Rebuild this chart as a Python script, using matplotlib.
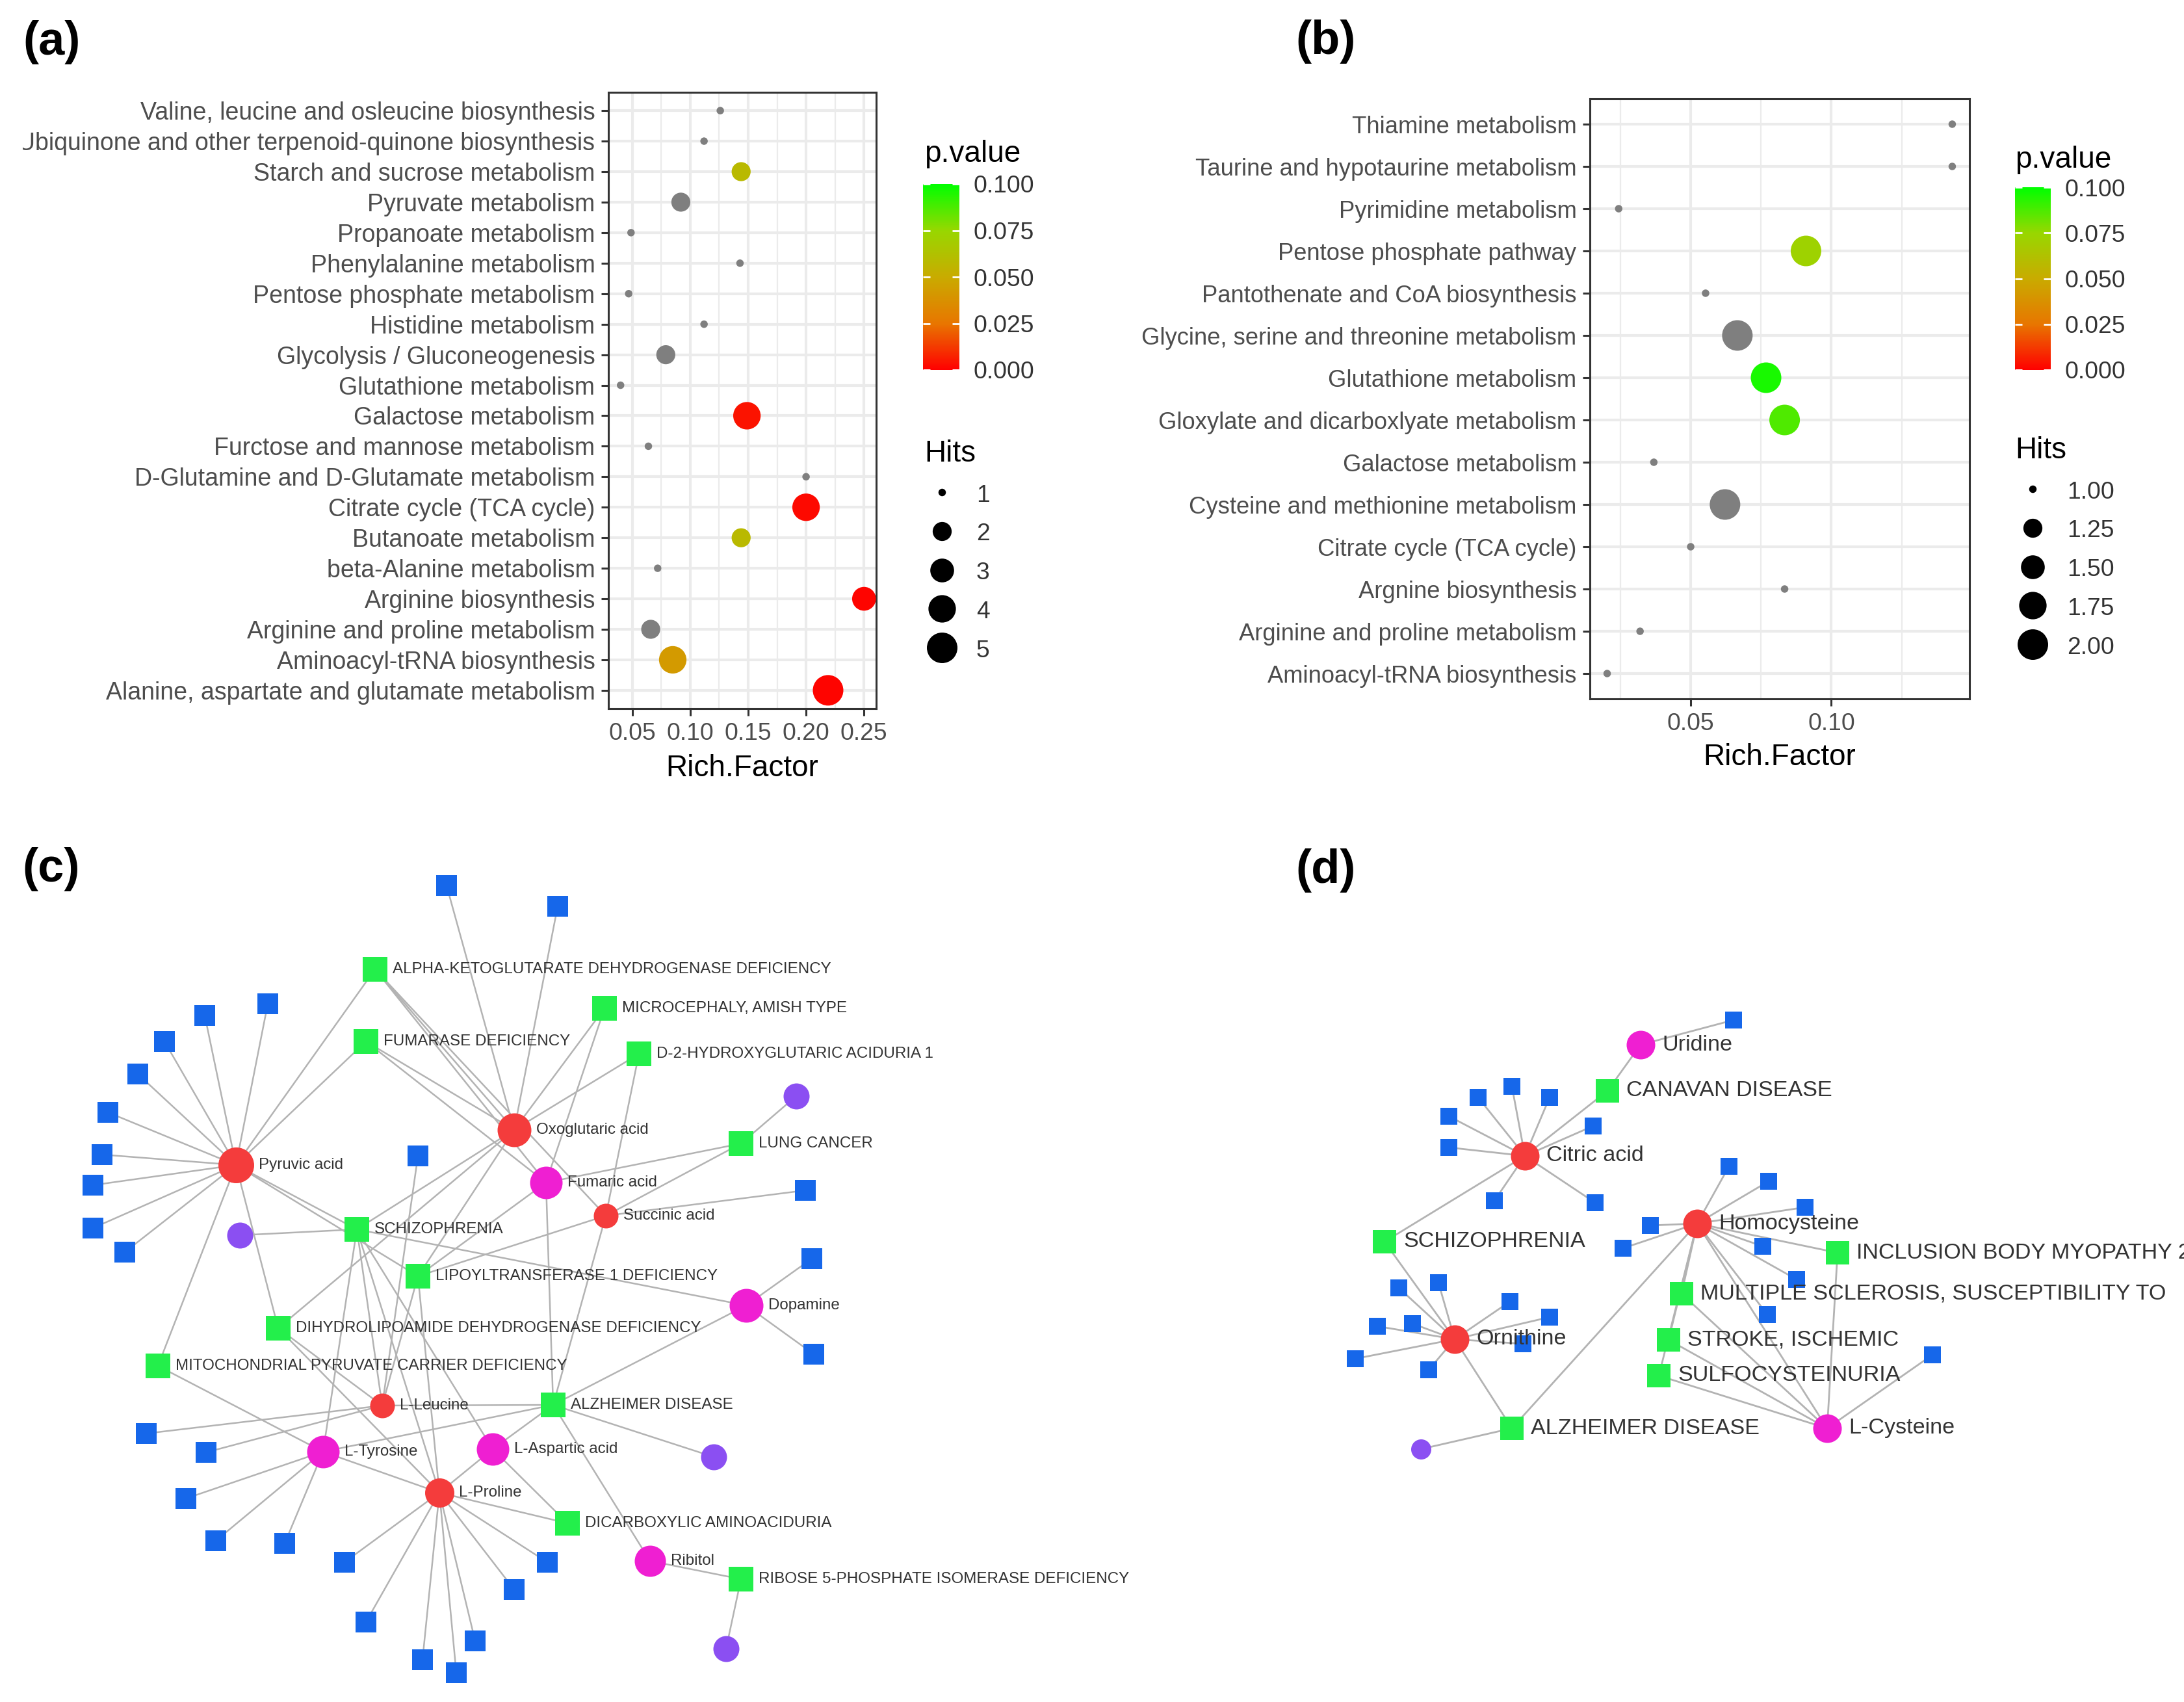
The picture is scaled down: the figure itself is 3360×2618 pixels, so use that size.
import numpy as np
import matplotlib
matplotlib.use("Agg")
import matplotlib.pyplot as plt
from matplotlib.colors import LinearSegmentedColormap, Normalize
from matplotlib.cm import ScalarMappable
from matplotlib.collections import LineCollection
from matplotlib.lines import Line2D
from matplotlib.ticker import FormatStrFormatter
from matplotlib.transforms import Bbox, TransformedBbox

W, H, DPI = 3360, 2618, 200
PT = 72.0 / DPI  # points per pixel

plt.rcParams['font.family'] = ['Liberation Sans', 'DejaVu Sans']
nan = np.nan

# ---------------- (a) enrichment ----------------
a_pathways = ["Valine, leucine and osleucine biosynthesis",
              "Ubiquinone and other terpenoid-quinone biosynthesis",
              "Starch and sucrose metabolism", "Pyruvate metabolism",
              "Propanoate metabolism", "Phenylalanine metabolism",
              "Pentose phosphate metabolism", "Histidine metabolism",
              "Glycolysis / Gluconeogenesis", "Glutathione metabolism",
              "Galactose metabolism", "Furctose and mannose metabolism",
              "D-Glutamine and D-Glutamate metabolism", "Citrate cycle (TCA cycle)",
              "Butanoate metabolism", "beta-Alanine metabolism",
              "Arginine biosynthesis", "Arginine and proline metabolism",
              "Aminoacyl-tRNA biosynthesis",
              "Alanine, aspartate and glutamate metabolism"]
a_rich = [0.126, 0.112, 0.144, 0.092, 0.049, 0.143, 0.047, 0.112, 0.079, 0.040,
          0.149, 0.064, 0.200, 0.200, 0.144, 0.072, 0.250, 0.066, 0.085, 0.219]
a_hits = [1, 1, 2, 2, 1, 1, 1, 1, 2, 1, 4, 1, 1, 4, 2, 1, 3, 2, 4, 5]
a_pval = [nan, nan, 0.058, nan, nan, nan, nan, nan, nan, nan,
          0.004, nan, nan, 0.002, 0.058, nan, 0.001, nan, 0.042, 0.001]
a_hits_legend = [1, 2, 3, 4, 5]

# ---------------- (b) enrichment ----------------
b_pathways = ["Thiamine metabolism", "Taurine and hypotaurine metabolism",
              "Pyrimidine metabolism", "Pentose phosphate pathway",
              "Pantothenate and CoA biosynthesis",
              "Glycine, serine and threonine metabolism", "Glutathione metabolism",
              "Gloxylate and dicarboxlyate metabolism", "Galactose metabolism",
              "Cysteine and methionine metabolism", "Citrate cycle (TCA cycle)",
              "Argnine biosynthesis", "Arginine and proline metabolism",
              "Aminoacyl-tRNA biosynthesis"]
b_rich = [0.143, 0.143, 0.0244, 0.091, 0.0553, 0.0666, 0.0768, 0.0834, 0.0369,
          0.0622, 0.050, 0.0834, 0.032, 0.0203]
b_hits = [1, 1, 1, 2, 1, 2, 2, 2, 1, 2, 1, 1, 1, 1]
b_pval = [nan, nan, nan, 0.072, nan, nan, 0.096, 0.087, nan, nan, nan, nan, nan, nan]
b_hits_legend = [1.0, 1.25, 1.5, 1.75, 2.0]

p_ticks = [0.0, 0.025, 0.05, 0.075, 0.1]

# ---------------- (c) network (layout in image pixels) ----------------
c_ids = ['pyr', 'oxo', 'suc', 'leu', 'pro', 'fum', 'dop', 'tyr', 'asp', 'rib',
         'akg', 'mic', 'fmd', 'd2h', 'lung', 'scz', 'lip', 'dld', 'mpc', 'alz', 'dca', 'rpi',
         'p1', 'p2', 'p3', 'p4'] + ['b%d' % i for i in range(1, 28)]
c_labels = ['Pyruvic acid', 'Oxoglutaric acid', 'Succinic acid', 'L-Leucine', 'L-Proline',
            'Fumaric acid', 'Dopamine', 'L-Tyrosine', 'L-Aspartic acid', 'Ribitol',
            'ALPHA-KETOGLUTARATE DEHYDROGENASE DEFICIENCY', 'MICROCEPHALY, AMISH TYPE',
            'FUMARASE DEFICIENCY', 'D-2-HYDROXYGLUTARIC ACIDURIA 1', 'LUNG CANCER',
            'SCHIZOPHRENIA', 'LIPOYLTRANSFERASE 1 DEFICIENCY',
            'DIHYDROLIPOAMIDE DEHYDROGENASE DEFICIENCY',
            'MITOCHONDRIAL PYRUVATE CARRIER DEFICIENCY', 'ALZHEIMER DISEASE',
            'DICARBOXYLIC AMINOACIDURIA', 'RIBOSE 5-PHOSPHATE ISOMERASE DEFICIENCY'] + [''] * 31
c_kind = (['red'] * 5 + ['magenta'] * 5 + ['green'] * 12 + ['purple'] * 4 + ['blue'] * 27)
c_x = [363, 791, 932, 588, 676, 840, 1148, 497, 758, 1000,
       577, 930, 563, 983, 1140, 549, 643, 428, 243, 851, 873, 1140,
       1225, 369, 1098, 1117,
       687, 858, 412, 315, 253, 212, 166, 157, 143, 143, 192, 643, 1239, 1249, 1252,
       225, 317, 286, 332, 438, 530, 563, 650, 702, 731, 791, 842]
c_y = [1792, 1738, 1870, 2162, 2296, 1819, 2008, 2233, 2229, 2401,
       1491, 1551, 1602, 1621, 1759, 1891, 1963, 2043, 2101, 2161, 2343, 2429,
       1686, 1900, 2241, 2536,
       1362, 1394, 1544, 1562, 1602, 1652, 1711, 1776, 1823, 1889, 1926, 1778, 1831, 1936, 2083,
       2205, 2234, 2305, 2370, 2374, 2403, 2495, 2553, 2573, 2524, 2445, 2403]
c_node_d = [55, 52, 38, 38, 45, 50, 52, 50, 50, 48] + [38] * 12 + [40] * 4 + [32] * 27
c_edges = ([('pyr', 'b%d' % i) for i in range(3, 12)] +
           [('pyr', 'akg'), ('pyr', 'fmd'), ('pyr', 'scz'), ('pyr', 'lip'), ('pyr', 'dld'), ('pyr', 'mpc'),
            ('oxo', 'b1'), ('oxo', 'b2'), ('oxo', 'akg'), ('oxo', 'fmd'), ('oxo', 'mic'), ('oxo', 'd2h'),
            ('oxo', 'scz'), ('oxo', 'lip'), ('oxo', 'dld'),
            ('fum', 'akg'), ('fum', 'fmd'), ('fum', 'mic'), ('fum', 'lung'), ('fum', 'alz'), ('fum', 'lip'),
            ('suc', 'akg'), ('suc', 'd2h'), ('suc', 'lung'), ('suc', 'b13'), ('suc', 'lip'), ('suc', 'alz'),
            ('lung', 'p1'),
            ('dop', 'b14'), ('dop', 'b15'), ('dop', 'scz'), ('dop', 'alz'),
            ('scz', 'p2'), ('scz', 'leu'), ('scz', 'tyr'), ('scz', 'pro'), ('scz', 'asp'),
            ('leu', 'b12'), ('leu', 'b16'), ('leu', 'b17'), ('leu', 'alz'), ('leu', 'lip'), ('leu', 'dld'),
            ('tyr', 'b18'), ('tyr', 'b19'), ('tyr', 'b20'), ('tyr', 'alz'), ('tyr', 'mpc'), ('tyr', 'pro')] +
           [('pro', 'b%d' % i) for i in range(21, 28)] +
           [('pro', 'dca'), ('pro', 'asp'), ('pro', 'lip'), ('pro', 'dld'),
            ('asp', 'alz'), ('asp', 'dca'), ('alz', 'p3'), ('alz', 'rib'), ('rib', 'rpi'), ('rpi', 'p4')])

# ---------------- (d) network ----------------
d_ids = ['cit', 'hcy', 'orn', 'uri', 'cys', 'can', 'scz', 'ibm', 'ms', 'stk', 'sul', 'alz', 'p1'] + \
        ['b%d' % i for i in range(1, 28)]
d_labels = ['Citric acid', 'Homocysteine', 'Ornithine', 'Uridine', 'L-Cysteine',
            'CANAVAN DISEASE', 'SCHIZOPHRENIA', 'INCLUSION BODY MYOPATHY 2',
            'MULTIPLE SCLEROSIS, SUSCEPTIBILITY TO', 'STROKE, ISCHEMIC', 'SULFOCYSTEINURIA',
            'ALZHEIMER DISEASE'] + [''] * 28
d_kind = ['red'] * 3 + ['magenta'] * 2 + ['green'] * 7 + ['purple'] + ['blue'] * 27
d_x = [2346, 2611, 2238, 2524, 2811, 2473, 2130, 2827, 2587, 2567, 2552, 2326, 2186,
       2667,
       2326, 2274, 2384, 2229, 2451, 2229, 2299, 2454,
       2660, 2721, 2777, 2539, 2497, 2712, 2764, 2719,
       2973,
       2152, 2213, 2323, 2384, 2119, 2173, 2343, 2085, 2198]
d_y = [1778, 1882, 2060, 1607, 2197, 1678, 1910, 1927, 1990, 2061, 2116, 2197, 2229,
       1569,
       1671, 1688, 1688, 1717, 1732, 1765, 1847, 1850,
       1794, 1817, 1857, 1885, 1920, 1917, 1968, 2022,
       2084,
       1981, 1973, 2002, 2026, 2040, 2036, 2067, 2090, 2107]
d_node_d = [44] * 5 + [36] * 7 + [31] + [26] * 27
d_edges = ([('uri', 'b1'), ('uri', 'can'), ('can', 'cit'), ('cit', 'scz'), ('scz', 'orn'),
            ('orn', 'alz'), ('alz', 'p1'), ('alz', 'hcy')] +
           [('cit', 'b%d' % i) for i in range(2, 10)] +
           [('hcy', 'b%d' % i) for i in range(10, 18)] +
           [('hcy', 'ibm'), ('hcy', 'ms'), ('hcy', 'stk'), ('hcy', 'sul'), ('hcy', 'cys'),
            ('cys', 'ibm'), ('cys', 'ms'), ('cys', 'stk'), ('cys', 'sul'), ('cys', 'b18')] +
           [('orn', 'b%d' % i) for i in range(19, 28)])

# ---------------- styles ----------------
cmap = LinearSegmentedColormap.from_list(
    'pv', ['#FF0000', '#E87600', '#C9AB00', '#98D700', '#00FF00'])
norm = Normalize(0, 0.1)
GREY = '#7f7f7f'
NODE_STYLE = {'red': ('#f43c3c', 'o'), 'magenta': ('#ef1fd2', 'o'),
              'purple': ('#8b4ff2', 'o'), 'green': ('#23ef4b', 's'),
              'blue': ('#1667ea', 's')}

fig = plt.figure(figsize=(W / DPI, H / DPI), dpi=DPI)


def rect(x0, y0, x1, y1):
    return [x0 / W, 1 - y1 / H, (x1 - x0) / W, (y1 - y0) / H]


def dot_px(h, hmin, hmax):
    return 11.5 + 35.5 * np.sqrt((np.asarray(h, float) - hmin) / (hmax - hmin))


def dot_panel(box, labels, rich, pval, hits, major, minor, xlab_y, ysize):
    ax = fig.add_axes(rect(*box))
    n = len(labels)
    ypos = np.arange(n)
    cols = [GREY if np.isnan(p) else cmap(norm(p)) for p in pval]
    ax.scatter(rich, ypos, s=(dot_px(hits, min(hits), max(hits)) * PT) ** 2,
               c=cols, linewidths=0, zorder=3)
    lo, hi = min(rich), max(rich)
    ax.set_xlim(lo - 0.05 * (hi - lo), hi + 0.05 * (hi - lo))
    ax.set_ylim(n - 0.4, -0.6)
    ax.set_yticks(ypos)
    ax.set_yticklabels(labels)
    ax.set_xticks(major)
    ax.set_xticks(minor, minor=True)
    ax.xaxis.set_major_formatter(FormatStrFormatter('%.2f'))
    ax.grid(which='major', color='#ebebeb', lw=1.5)
    ax.grid(which='minor', axis='x', color='#ebebeb', lw=0.8)
    ax.set_axisbelow(True)
    for sp in ax.spines.values():
        sp.set_color('#333333')
        sp.set_linewidth(1.1)
    ax.tick_params(which='major', length=4.1, width=1.1, color='#333333',
                   labelsize=13.4, labelcolor='#4d4d4d', pad=3.3)
    ax.tick_params(axis='y', labelsize=ysize)
    ax.tick_params(which='minor', length=0)
    ax.set_xlabel('Rich.Factor', fontsize=16.5)
    ax.xaxis.set_label_coords(0.5, -(xlab_y - box[3]) / (box[3] - box[1]))
    ax.xaxis.label.set_va('center')
    return ax


def p_legend(x_title, y_title, bar):
    fig.text(x_title / W, 1 - y_title / H, 'p.value', fontsize=16.5, va='center', ha='left')
    cax = fig.add_axes(rect(*bar))
    cb = fig.colorbar(ScalarMappable(norm=norm, cmap=cmap), cax=cax, ticks=p_ticks)
    cb.outline.set_visible(False)
    cb.ax.set_yticklabels(['%.3f' % t for t in p_ticks])
    cax.tick_params(axis='y', left=True, right=True, direction='in', length=4,
                    width=1.0, color='white', labelsize=13.4, labelcolor='#333333', pad=7.9)
    cb.minorticks_off()


def hits_legend(x, y_top, values, fmt):
    ds = dot_px(values, min(values), max(values))
    handles = [Line2D([], [], ls='none', marker='o', color='black', markeredgewidth=0,
                      markersize=d * PT) for d in ds]
    leg = fig.legend(handles, [fmt % v for v in values], title='Hits', loc='upper left',
                     bbox_to_anchor=(x / W, 1 - y_top / H), frameon=False, fontsize=13.4,
                     title_fontsize=16.5, alignment='left', borderpad=0, borderaxespad=0,
                     handlelength=1.45, handleheight=1.0, handletextpad=0.7,
                     labelspacing=0.6)
    for t in leg.get_texts():
        t.set_color('#333333')


# network layer in image pixel coordinates
net = fig.add_axes([0, 0, 1, 1])
net.set_xlim(0, W)
net.set_ylim(H, 0)
net.axis('off')


def draw_network(ids, xs, ys, kinds, diam, labels, edges, lw, fsize, gap):
    pos = {i: (x, y) for i, x, y in zip(ids, xs, ys)}
    segs = [[pos[a], pos[b]] for a, b in edges]
    net.add_collection(LineCollection(segs, colors='#b3b3b3', linewidths=lw, zorder=1))
    for x, y, k, d in zip(xs, ys, kinds, diam):
        col, mk = NODE_STYLE[k]
        net.scatter([x], [y], s=(d * PT) ** 2, marker=mk, c=col, linewidths=0, zorder=2)
    for x, y, d, lab in zip(xs, ys, diam, labels):
        if lab:
            net.annotate(lab, (x, y), xytext=((d / 2 + gap) * PT, 0),
                         textcoords='offset points', va='center', ha='left',
                         fontsize=fsize, color='#333333', zorder=3, annotation_clip=False)


draw_network(c_ids, c_x, c_y, c_kind, c_node_d, c_labels, c_edges, 0.9, 8.7, 8)
draw_network(d_ids, d_x, d_y, d_kind, d_node_d, d_labels, d_edges, 1.0, 12.3, 11)

# panels a and b
ax_a = dot_panel((936, 142, 1348, 1090), a_pathways, a_rich, a_pval, a_hits,
                 [0.05, 0.10, 0.15, 0.20, 0.25], [0.075, 0.125, 0.175, 0.225], 1182, 13.5)
ax_b = dot_panel((2446, 152, 3030, 1075), b_pathways, b_rich, b_pval, b_hits,
                 [0.05, 0.10], [0.025, 0.075, 0.125], 1165, 13.1)

# the first letter of this label is cut by the panel edge in the figure
for t in ax_a.get_yticklabels():
    if t.get_text().startswith('Ubiquinone'):
        t.set_clip_box(TransformedBbox(Bbox([[35 / W, 0], [1, 1]]), fig.transFigure))
        t.set_clip_on(True)

p_legend(1422, 237, (1420, 283, 1476, 569))
hits_legend(1422, 676, a_hits_legend, '%d')
p_legend(3100, 246, (3100, 288, 3155, 569))
hits_legend(3100, 671, b_hits_legend, '%.2f')

for lab, x, y in [('(a)', 35, 65), ('(b)', 1993, 64), ('(c)', 34, 1337), ('(d)', 1993, 1339)]:
    fig.text(x / W, 1 - y / H, lab, fontsize=26, fontweight='bold', va='center', ha='left')

fig.savefig('out.png', dpi=DPI)
